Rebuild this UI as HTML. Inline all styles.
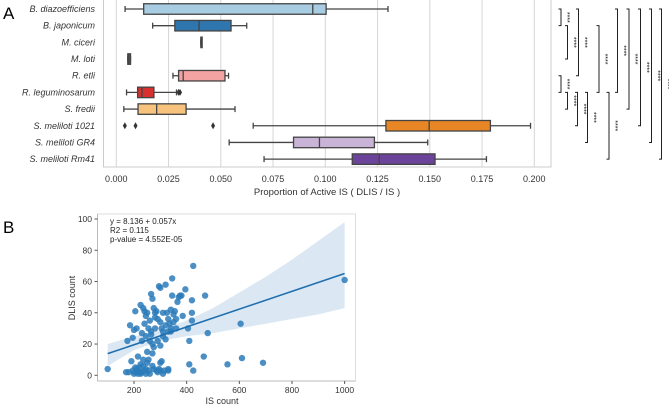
<!DOCTYPE html>
<html><head><meta charset="utf-8"><style>
body{margin:0;background:#fff;}
svg{display:block;font-family:"Liberation Sans","DejaVu Sans",sans-serif;}
</style></head><body>
<svg id="fig" width="669" height="406" viewBox="0 0 669 406">
<text x="3" y="19" font-size="17">A</text>
<text x="3" y="233" font-size="17">B</text>
<g id="A"></g>
<g id="B"></g>
</svg>
<script>
const NS="http://www.w3.org/2000/svg";
function mk(p,t,a){const e=document.createElementNS(NS,t);for(const k in a)e.setAttribute(k,a[k]);p.appendChild(e);return e;}

// ---------- Panel A data ----------
const strains=["B. diazoefficiens","B. japonicum","M. ciceri","M. loti","R. etli","R. leguminosarum","S. fredii","S. meliloti 1021","S. meliloti GR4","S. meliloti Rm41"];
const wLo=[0.0042,0.0174,0.0405,0.0055,0.0271,0.0049,0.0036,0.0655,0.054,0.0707];
const q1=[0.0131,0.028,0.0405,0.0055,0.0298,0.0102,0.0104,0.129,0.0848,0.1129];
const med=[0.094,0.0396,0.0405,0.006,0.032,0.0123,0.0193,0.1497,0.0972,0.1258];
const q3=[0.1004,0.0549,0.0405,0.0068,0.052,0.018,0.0334,0.179,0.1235,0.1525];
const wHi=[0.130,0.0624,0.0405,0.0068,0.0537,0.0288,0.0568,0.1982,0.149,0.1771];
const fliers=[[],[],[],[],[],[0.0298,0.0305],[],[0.0041,0.0092,0.0463],[],[]];
const colors=["#a8cde2","#2f76ae","#a9d58b","#3f7a38","#f2a3a2","#d7302f","#f6c27c","#e88525","#c9b3d6","#6c439a"];
const xTicksA=[0,0.025,0.05,0.075,0.1,0.125,0.15,0.175,0.2];
const brackets=[[0,1],[1,3],[0,4],[1,5],[0,5],[0,6],[0,7],[0,8],[0,9],[4,5],[5,6],[5,7],[5,8],[5,9]];
const brX=[561,567.5,578.5,599,617.5,629,640.5,651.5,661.5,561,567.5,577.5,587.5,609];

const A=document.getElementById('A');
const ax0=116.3, axs=2090, ay0=9, ayStep=16.68;
const xA=v=>ax0+v*axs, yA=i=>ay0+i*ayStep;
xTicksA.forEach(t=>{
  const g=mk(A,'line',{x1:xA(t),x2:xA(t),y1:0,y2:167,stroke:'#d6d6d6','stroke-width':1});
  
  const tx=mk(A,'text',{x:xA(t),y:182,'font-size':9,'text-anchor':'middle',fill:'#333'});tx.textContent=t.toFixed(3);
  
});
const fr=mk(A,'rect',{x:103.5,y:-1,width:447.5,height:168,fill:'none',stroke:'#cccccc'});

const tA=mk(A,'text',{x:327,y:195,'font-size':9.5,'text-anchor':'middle',fill:'#333'});tA.textContent="Proportion of Active IS ( DLIS / IS )";

strains.forEach((s,i)=>{
  const y=yA(i), h=10.5, ec='#444';
  const lb=mk(A,'text',{x:95,y:y+3,'font-size':9,'font-style':'italic','text-anchor':'end',fill:'#333'});lb.textContent=s;
  
  const g=mk(A,'g',{});
  
  mk(g,'line',{x1:xA(wLo[i]),x2:xA(q1[i]),y1:y,y2:y,stroke:ec,'stroke-width':1.3});
  mk(g,'line',{x1:xA(q3[i]),x2:xA(wHi[i]),y1:y,y2:y,stroke:ec,'stroke-width':1.3});
  mk(g,'line',{x1:xA(wLo[i]),x2:xA(wLo[i]),y1:y-3,y2:y+3,stroke:ec,'stroke-width':1.3});
  mk(g,'line',{x1:xA(wHi[i]),x2:xA(wHi[i]),y1:y-3,y2:y+3,stroke:ec,'stroke-width':1.3});
  const w=Math.max(xA(q3[i])-xA(q1[i]),1.2);
  mk(g,'rect',{x:xA(q1[i]),y:y-h/2,width:w,height:h,fill:colors[i],stroke:ec,'stroke-width':1.3});
  mk(g,'line',{x1:xA(med[i]),x2:xA(med[i]),y1:y-h/2,y2:y+h/2,stroke:ec,'stroke-width':1.3});
  fliers[i].forEach(f=>{mk(g,'path',{d:`M${xA(f)} ${y-3.5}L${xA(f)+2} ${y}L${xA(f)} ${y+3.5}L${xA(f)-2} ${y}Z`,fill:'#333'});});
});
brackets.forEach((b,k)=>{
  const x=brX[k], y1=yA(b[0]), y2=yA(b[1]);
  const g=mk(A,'g',{});
  
  mk(g,'path',{d:`M${x-2.5} ${y1}H${x}V${y2}H${x-2.5}`,fill:'none',stroke:'#222','stroke-width':1});
  const t=mk(g,'text',{x:0,y:0,'font-size':7,fill:'#222','text-anchor':'middle',transform:`translate(${x+4},${(y1+y2)/2}) rotate(90)`});t.textContent="****";
});

// ---------- Panel B data ----------
const isCount=[100,170,180,185,175,195,200,205,210,190,200,205,210,215,220,225,230,235,240,245,250,255,215,230,225,235,240,245,250,240,245,255,260,265,270,275,280,280,285,260,265,270,275,270,265,290,295,300,310,300,305,310,290,300,320,325,330,335,340,345,345,350,355,360,365,370,375,380,395,385,405,410,420,420,420,470,480,465,410,425,425,605,610,555,690,1000,320,310,330,340,350,280,275,285,295,300,305,310,315,330,330,300,260,225,235,270,255,215,250,230,320,340,360,195,205,220,245,290];
const dlisCount=[4,2,2,32,22,24,29,41,30,9,1,2,4,3,5,1,2,6,3,1,8,10,12,27,45,43,41,38,40,33,25,30,22,52,49,43,40,37,41,35,26,20,18,14,28,36,57,56,40,34,30,25,22,19,58,40,36,33,42,62,51,39,41,36,47,50,51,51,55,38,30,22,35,40,48,51,27,12,7,3,70,33,11,7,8,61,23,28,28,30,34,30,4,3,4,8,9,1,3,4,3,3,1,7,10,6,3,1,15,22,32,28,30,3,5,2,4,2];
const intercept=8.136, slope=0.057;
const ciX=[100,200,300,400,500,600,700,800,900,1000];
const ciLo=[6,16,22,25,27,30,33,36,39,43];
const ciHi=[20,25,29,35,43,53,63,74,86,98];
const xTicksB=[200,400,600,800,1000];
const yTicksB=[0,20,40,60,80,100];

const B=document.getElementById('B');
const xB=v=>134+(v-200)*0.2633, yB=v=>375.3-v*1.563;
const frB=mk(B,'rect',{x:97.5,y:214,width:258,height:167,fill:'none',stroke:'#dddddd'});

mk(B,'line',{x1:97.5,x2:97.5,y1:214,y2:381,stroke:'#bbb'});
mk(B,'line',{x1:97.5,x2:355.5,y1:381,y2:381,stroke:'#bbb'});
let bandD="M"+ciX.map((x,i)=>xB(x)+" "+yB(ciHi[i])).join("L")+"L"+ciX.slice().reverse().map((x,j)=>xB(x)+" "+yB(ciLo[ciX.length-1-j])).join("L")+"Z";
const band=mk(B,'path',{d:bandD,fill:'#cfe0ef',opacity:0.75});

isCount.forEach((x,i)=>{
  const c=mk(B,'circle',{cx:xB(x),cy:yB(dlisCount[i]),r:3.2,fill:'#2b7bba',opacity:0.85});
  
});
const rl=mk(B,'line',{x1:xB(100),y1:yB(intercept+slope*100),x2:xB(1000),y2:yB(intercept+slope*1000),stroke:'#1f6fb0','stroke-width':1.6});

xTicksB.forEach(t=>{
  mk(B,'line',{x1:xB(t),x2:xB(t),y1:381,y2:384,stroke:'#555'});
  const tx=mk(B,'text',{x:xB(t),y:393,'font-size':8.5,'text-anchor':'middle',fill:'#333'});tx.textContent=t;
  
});
yTicksB.forEach(t=>{
  mk(B,'line',{x1:94.5,x2:97.5,y1:yB(t),y2:yB(t),stroke:'#555'});
  const tx=mk(B,'text',{x:92,y:yB(t)+3,'font-size':8.5,'text-anchor':'end',fill:'#333'});tx.textContent=t;
  
});
const xt=mk(B,'text',{x:222,y:404,'font-size':9,'text-anchor':'middle',fill:'#333'});xt.textContent="IS count";

const yt=mk(B,'text',{x:0,y:0,'font-size':9,'text-anchor':'middle',fill:'#333',transform:'translate(75,298) rotate(-90)'});yt.textContent="DLIS count";

["y = 8.136 + 0.057x","R2 = 0.115","p-value = 4.552E-05"].forEach((s,i)=>{
  const t=mk(B,'text',{x:110,y:224+i*9,'font-size':8,fill:'#222'});t.textContent=s;
  
});
</script>
</body></html>
